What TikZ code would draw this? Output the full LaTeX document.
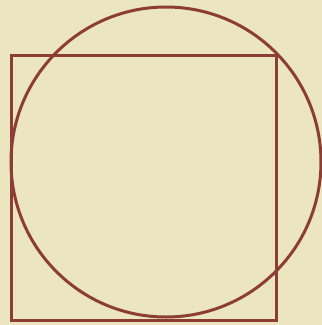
\documentclass[tikz,border=0pt]{standalone}
\usepackage{xcolor}
\usepackage{tikz}
\definecolor{papercolor}{RGB}{236,230,192}
\definecolor{inkcolor}{RGB}{140,62,52}
\tikzset{
  figline/.style={draw=inkcolor, line width=3pt},
}

\begin{document}
\begin{tikzpicture}[x=1pt, y=-1pt]

  % --- Paper ---
  \fill[papercolor] (0,0) rectangle (322,325);
  \useasboundingbox (0,0) rectangle (322,325);

  % --- Square and circle ---
  \draw[figline] (11,55) rectangle (277,320);
  \draw[figline] (166,162) circle[radius=155];

\end{tikzpicture}
\end{document}
